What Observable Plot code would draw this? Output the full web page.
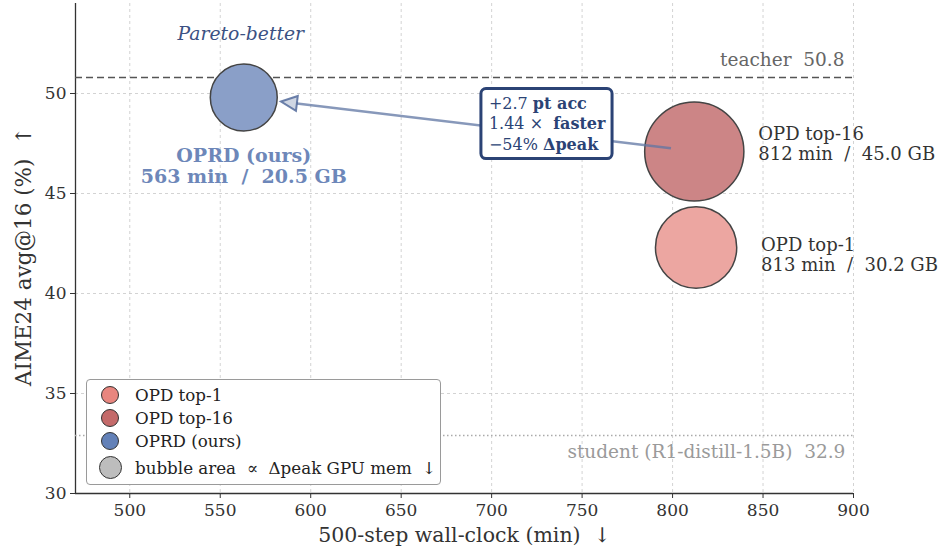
<!DOCTYPE html>
<html><head><meta charset="utf-8">
<script src="https://cdn.jsdelivr.net/npm/d3@7"></script>
<script src="https://cdn.jsdelivr.net/npm/@observablehq/plot@0.6"></script>
<style>
body{margin:0;background:#fff;font-family:"DejaVu Serif",serif;}
#wrap{position:relative;width:938px;height:554px;}
svg text{white-space:pre;}
#legend{position:absolute;left:86px;top:379px;width:355px;height:106px;border:1.5px solid #9a9a9a;border-radius:4px;background:#fff;box-sizing:border-box;padding:3px 0 0 14px;font-size:16.7px;color:#222;white-space:pre;}
.li{display:flex;align-items:center;height:23px;}
.li span.c{width:18px;height:18px;border-radius:50%;border:1.5px solid #333;margin-right:16px;box-sizing:border-box;flex:none;}
</style>
</head><body><div id="wrap"></div>
<script>
const methods = ["OPD top-1", "OPD top-16", "OPRD (ours)"];
const wallClock = [813, 812, 563];
const accuracy = [42.3, 47.1, 49.8];
const peakMem = [30.2, 45.0, 20.5];
const bubbleFill = ["#eca6a1", "#cc8586", "#8a9fc8"];
const legendFill = ["#e8867f", "#c46a6a", "#6381b8", "#bdbdbd"];
const legendLabels = ["OPD top-1", "OPD top-16", "OPRD (ours)", "bubble area  ∝  Δpeak GPU mem  ↓"];
const teacherAcc = 50.8;
const studentAcc = 32.9;
const teacherLabel = "teacher  50.8";
const studentLabel = "student (R1-distill-1.5B)  32.9";
const xTicks = [500, 550, 600, 650, 700, 750, 800, 850, 900];
const yTicks = [30, 35, 40, 45, 50];
const annoRegular = ["+2.7 ", "1.44 ×  ", "−54% "];
const annoBold = ["pt acc", "faster", "Δpeak"];

const data = methods.map((m, i) => ({
  method: m, x: wallClock[i], y: accuracy[i], mem: peakMem[i], fill: bubbleFill[i],
  label: m + "\n" + wallClock[i] + " min  /  " + peakMem[i].toFixed(1) + " GB"
}));
const top1 = data.filter(d => d.method === "OPD top-1");
const top16s = data.filter(d => d.method === "OPD top-16");
const ours = data.filter(d => d.method === "OPRD (ours)");
const top16 = top16s[0];
const oursD = ours[0];

// arrow drawn through the plot's scales
function arrowMark(index, scales) {
  const sx = scales.x(top16.x), sy = scales.y(top16.y);
  const ex = scales.x(oursD.x), ey = scales.y(oursD.y);
  const dx = ex - sx, dy = ey - sy, L = Math.hypot(dx, dy);
  const ux = dx / L, uy = dy / L;
  const x0 = sx + ux * 23, y0 = sy + uy * 23;
  const tx = ex - ux * 38, ty = ey - uy * 38;
  const hl = 16, hw = 7.5;
  const bx = tx - ux * hl, by = ty - uy * hl;
  const px = -uy, py = ux;
  const g = d3.create("svg:g");
  g.append("line").attr("x1", x0).attr("y1", y0).attr("x2", bx).attr("y2", by)
    .attr("stroke", "#5f76a3").attr("stroke-opacity", 0.75).attr("stroke-width", 2.6);
  g.append("path")
    .attr("d", `M${tx},${ty}L${bx + px * hw},${by + py * hw}L${bx - px * hw},${by - py * hw}Z`)
    .attr("fill", "#5f76a3").attr("fill-opacity", 0.3)
    .attr("stroke", "#4a6396").attr("stroke-opacity", 0.8).attr("stroke-width", 2).attr("stroke-linejoin", "miter");
  return g.node();
}

const font = "DejaVu Serif";
const plot = Plot.plot({
  width: 938, height: 554,
  marginLeft: 75, marginRight: 85, marginTop: 3, marginBottom: 61,
  style: {fontFamily: font, background: "#fff"},
  x: {domain: [470, 900], ticks: xTicks},
  y: {domain: [30, 54.5], ticks: yTicks},
  r: {domain: [0, 45], range: [0, 49.6]},
  marks: [
    Plot.gridX(xTicks, {stroke: "#c8c8c8", strokeOpacity: 1, strokeWidth: 0.8, strokeDasharray: "3,3"}),
    Plot.gridY(yTicks, {stroke: "#c8c8c8", strokeOpacity: 1, strokeWidth: 0.8, strokeDasharray: "3,3"}),
    Plot.axisX({ticks: xTicks, tickSize: 5, tickPadding: 5, fontSize: 17, label: null, color: "#333"}),
    Plot.axisY({ticks: yTicks, tickSize: 5, tickPadding: 4, fontSize: 17, label: null, color: "#333"}),
    Plot.ruleY([30], {stroke: "#333", strokeWidth: 1.3}),
    Plot.ruleX([470], {stroke: "#333", strokeWidth: 1.3}),
    Plot.ruleY([teacherAcc], {stroke: "#555", strokeWidth: 1.6, strokeDasharray: "7,4"}),
    Plot.ruleY([studentAcc], {stroke: "#aaa", strokeWidth: 1.6, strokeDasharray: "1.5,2.5"}),
    Plot.text([teacherLabel], {x: 895, y: teacherAcc, text: d => d, textAnchor: "end", dy: -17, fontSize: 18.5, fill: "#666"}),
    Plot.text([studentLabel], {x: 895.5, y: studentAcc, text: d => d, textAnchor: "end", dy: 17, fontSize: 18.5, fill: "#9a9a9a"}),
    Plot.dot(data, {x: "x", y: "y", r: "mem", fill: "fill", stroke: "#444", strokeWidth: 1.5}),
    arrowMark,
    Plot.text(top16s, {x: "x", y: "y", text: "label", textAnchor: "start", dx: 64, dy: -8, fontSize: 18, fill: "#333", lineHeight: 1.12}),
    Plot.text(top1, {x: "x", y: "y", text: "label", textAnchor: "start", dx: 65, dy: 7, fontSize: 18, fill: "#333", lineHeight: 1.12}),
    Plot.text(ours, {x: "x", y: "y", text: d => d.method + "\n" + d.x + " min  /  " + d.mem.toFixed(1) + " GB", dy: 68.5, fontSize: 19, fontWeight: "bold", fill: "#6d87b9", lineHeight: 1.1}),
    Plot.text(["Pareto-better"], {x: oursD.x, y: 53, text: d => d, fontSize: 18.8, fontStyle: "italic", fill: "#3b5183", dx: -3}),
    Plot.text([annoRegular.map((r, i) => r + annoBold[i]).join("\n")], {x: 698.5, y: 48.55, text: d => d, textAnchor: "start", fontSize: 16, fill: "#2b4375", lineHeight: 1.28, className: "anno"}),
    Plot.text(["500-step wall-clock (min)  ↓"], {frameAnchor: "bottom", dy: 48, text: d => d, fontSize: 20.5, fill: "#333"}),
    Plot.text(["AIME24 avg@16 (%)  ↑"], {frameAnchor: "left", textAnchor: "middle", dx: -51, dy: 8, rotate: -90, text: d => d, fontSize: 21.5, fill: "#333"})
  ]
});
const wrap = document.getElementById("wrap");
wrap.appendChild(plot);

// bold parts of annotation + rounded box behind it
const annoText = plot.querySelector(".anno text");
if (annoText) {
  const tspans = annoText.querySelectorAll("tspan");
  tspans.forEach((t, i) => {
    t.textContent = annoRegular[i];
    const b = document.createElementNS("http://www.w3.org/2000/svg", "tspan");
    b.setAttribute("font-weight", "bold");
    b.textContent = annoBold[i];
    t.appendChild(b);
  });
  const bb = annoText.getBBox();
  const g = annoText.parentNode;
  const rect = document.createElementNS("http://www.w3.org/2000/svg", "rect");
  rect.setAttribute("x", bb.x - 8); rect.setAttribute("y", bb.y - 5);
  rect.setAttribute("width", bb.width + 14); rect.setAttribute("height", bb.height + 10);
  rect.setAttribute("rx", 5); rect.setAttribute("fill", "#fff");
  rect.setAttribute("stroke", "#2b4375"); rect.setAttribute("stroke-width", 3);
  const tr = annoText.getAttribute("transform");
  if (tr) rect.setAttribute("transform", tr);
  g.insertBefore(rect, annoText);
}

// legend
const lg = document.createElement("div");
lg.id = "legend";
legendLabels.forEach((l, i) => {
  const row = document.createElement("div");
  row.className = "li";
  const c = document.createElement("span");
  c.className = "c";
  c.style.background = legendFill[i];
  if (i === 3) { c.style.width = "23px"; c.style.height = "23px"; c.style.marginLeft = "-2.5px"; c.style.marginRight = "13.5px"; }
  row.appendChild(c);
  const s = document.createElement("span");
  s.textContent = l;
  row.appendChild(s);
  if (i === 3) row.style.height = "31px";
  lg.appendChild(row);
});
wrap.appendChild(lg);
</script>
</body></html>
